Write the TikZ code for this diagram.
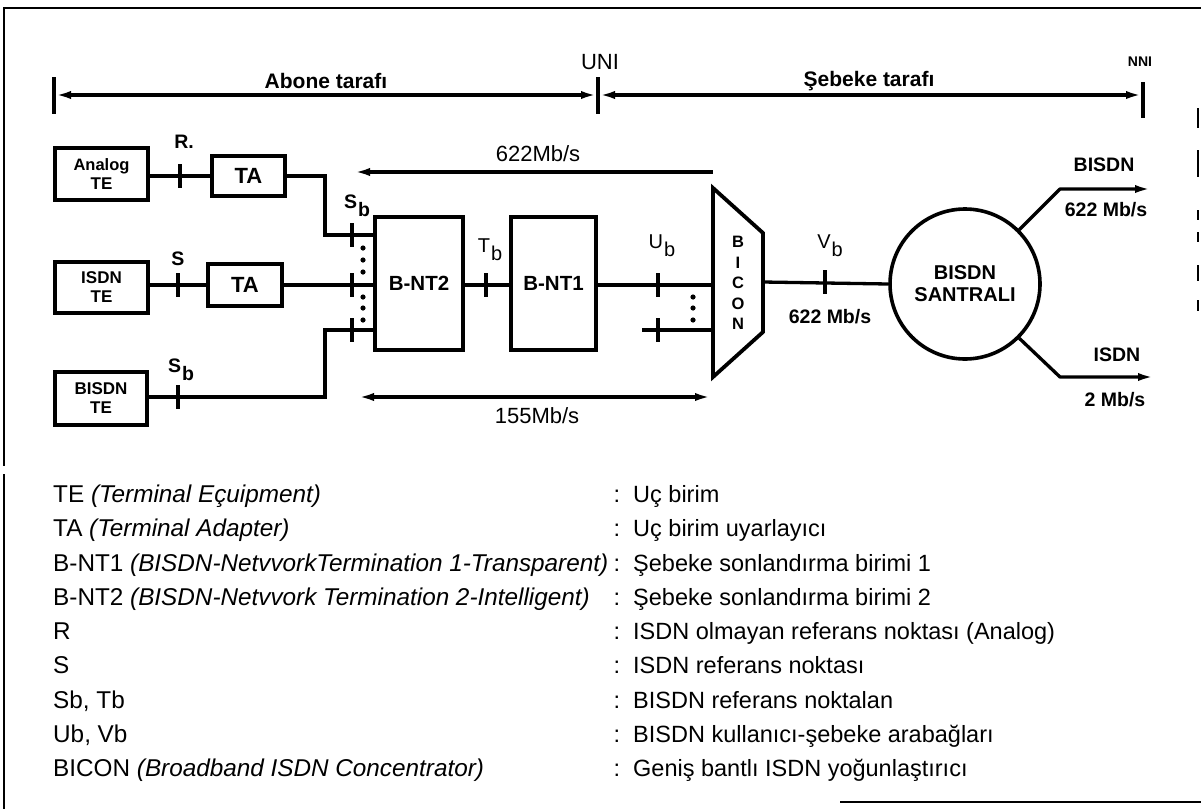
\documentclass[tikz,border=0pt]{standalone}
\usepackage{fontspec}
\setmainfont{Liberation Sans}
\usetikzlibrary{arrows.meta}
\newcommand\subb[1]{#1\kern1pt\raisebox{-0.4em}{b}}
\begin{document}
\begin{tikzpicture}[x=1pt,y=-1pt,
  box/.style={draw, line width=3.8pt, rectangle, inner sep=0pt, align=center, font=\bfseries\fontsize{18}{19}\selectfont},
  wire/.style={line width=3.3pt},
  tickmark/.style={line width=3.6pt},
  frame/.style={line width=2.4pt},
  blbl/.style={inner sep=0pt, font=\bfseries\fontsize{19.5}{19.5}\selectfont},
  rlbl/.style={inner sep=0pt, font=\fontsize{22}{22}\selectfont},
  leg/.style={anchor=base west, inner sep=0pt, font=\fontsize{24.3}{28}\selectfont},
  legr/.style={anchor=base west, inner sep=0pt, font=\fontsize{23.5}{28}\selectfont},
  col/.style={anchor=base, inner sep=0pt, font=\fontsize{23.5}{28}\selectfont},
  tipR/.style={-{Latex[length=17pt,width=8pt]}},
  tipL/.style={{Latex[length=17pt,width=8pt]}-},
  tipLR/.style={{Latex[length=17pt,width=8pt]}-{Latex[length=17pt,width=8pt]}},
  dot/.style={fill=black}
]
\useasboundingbox (0,0) rectangle (1201,809);
\fill[white] (0,0) rectangle (1201,809);

% frame
\draw[frame] (1201,8) -- (4,8) -- (4,466);
\draw[frame] (4,474) -- (4,809);
\draw[frame] (840,802) -- (1201,802);
\foreach \a/\b in {108/128,150/177,210/220,232/242,265/281,300/311}
  \draw[line width=2.5pt] (1198,\a) -- (1198,\b);

% header
\coordinate (lt) at (54,95);
\coordinate (uni) at (598,95);
\coordinate (nni) at (1143,95);
\draw[tickmark] (54,77) -- (54,114);
\draw[tickmark] (598,77) -- (598,114);
\draw[tickmark] (1143,82) -- (1143,118);
\draw[wire, tipLR] (lt) -- (uni);
\draw[wire, tipLR] (uni) -- (nni);
\node[rlbl] (unil) at (600,62) {UNI};
\node[blbl, font=\bfseries\fontsize{14}{14}\selectfont] (nnil) at (1140,62) {NNI};
\node[blbl, font=\bfseries\fontsize{21}{21}\selectfont] (abone) at (326,81) {Abone tarafı};
\node[blbl, font=\bfseries\fontsize{21}{21}\selectfont] (sebeke) at (869,81) {Şebeke tarafı};

% boxes
\node[box, minimum width=93pt, minimum height=52pt, font=\bfseries\fontsize{16.5}{19}\selectfont] (ate) at (101.5,174) {Analog\\\fontsize{17}{19}\selectfont TE};
\node[box, minimum width=73pt, minimum height=40pt, font=\bfseries\fontsize{22}{22}\selectfont] (ta1) at (248.5,176) {TA};
\node[box, minimum width=93pt, minimum height=51pt, font=\bfseries\fontsize{17}{19}\selectfont] (ite) at (101.5,287.5) {ISDN\\\fontsize{17}{19}\selectfont TE};
\node[box, minimum width=74pt, minimum height=42pt, font=\bfseries\fontsize{22}{22}\selectfont] (ta2) at (245,285) {TA};
\node[box, minimum width=92pt, minimum height=53pt, font=\bfseries\fontsize{17}{19}\selectfont] (bte) at (101,398.5) {BISDN\\\fontsize{17}{19}\selectfont TE};
\node[box, minimum width=88pt, minimum height=133pt, font=\bfseries\fontsize{20.5}{20}\selectfont] (nt2) at (419,283.5) {B-NT2};
\node[box, minimum width=85pt, minimum height=133pt, font=\bfseries\fontsize{20.5}{20}\selectfont] (nt1) at (553.5,283.5) {B-NT1};

% BICON
\draw[line width=3.8pt, line join=miter] (713,188) -- (763,233) -- (763,332) -- (713,377) -- cycle;
\node[blbl, align=center, font=\bfseries\fontsize{16.5}{20.5}\selectfont] (bicon) at (738,283) {B\\I\\C\\O\\N};
\coordinate (bl1) at (713,285);
\coordinate (bl2) at (713,330);
\coordinate (u2) at (642,330);
\coordinate (br) at (763,282);

% santral
\node[draw, circle, line width=3.6pt, minimum size=150pt, inner sep=0pt, align=center, font=\bfseries\fontsize{20}{22}\selectfont] (sw) at (965,284) {BISDN\\SANTRALI};

% junctions
\coordinate (j1) at (325,235);
\coordinate (j3) at (325,330);

% wires
\draw[wire] (ate.east |- ta1.west) -- (ta1.west);
\draw[wire] (ta1.east) -- (325,176) -- (j1) -- (nt2.west |- j1);
\draw[wire] (ite.east |- ta2.west) -- (ta2.west);
\draw[wire] (ta2.east) -- (nt2.west |- ta2.east);
\draw[wire] (bte.east |- 0,397) -- (325,397) -- (j3) -- (nt2.west |- j3);
\draw[wire] (nt2.east |- ta2.east) -- (nt1.west |- ta2.east);
\draw[wire] (nt1.east |- bl1) -- (bl1);
\draw[wire] (u2) -- (bl2);
\draw[wire] (br) -- (sw.west);
\coordinate (o1) at (1060,189);
\coordinate (o1e) at (1152,189);
\coordinate (o2) at (1060,377);
\coordinate (o2e) at (1155,377);
\draw[wire, tipR, line join=round] (sw.45) -- (o1) -- (o1e);
\draw[wire, tipR, line join=round] (sw.-45) -- (o2) -- (o2e);

% ticks
\foreach \x/\y in {180/176,178/285,178/397,352/235,352/285,352/330,486/285,658/285,658/330,825/282}
  \draw[tickmark] (\x,\y-12) -- (\x,\y+12);

% dots
\foreach \x/\y in {363/248,363/260,363/272,363/297,363/308,363/320,693/297,693/308,693/320}
  \fill[dot] (\x,\y) circle (2.6pt);

% reference labels
\node[blbl] (rl) at (184,142) {R.};
\node[blbl] (sl) at (178,259) {S};
\node[blbl] (sb1) at (357,206) {\subb{S}};
\node[blbl] (sb2) at (181,370) {\subb{S}};
\node[rlbl, font=\fontsize{20}{20}\selectfont] (tb) at (490,250) {\subb{T}};
\node[rlbl, font=\fontsize{20}{20}\selectfont] (ub) at (662,246) {\subb{U}};
\node[rlbl, font=\fontsize{20}{20}\selectfont] (vb) at (830,246) {\subb{V}};

% rate arrows
\draw[wire, tipL] (353,172) -- (713,172);
\node[rlbl] (r622) at (538,154) {622Mb/s};
\draw[wire, tipLR] (357,397) -- (712,397);
\node[rlbl] (r155) at (537,416) {155Mb/s};
\node[blbl] (v622) at (830,317) {622 Mb/s};
\node[blbl] (obisdn) at (1104,165) {BISDN};
\node[blbl] (o622) at (1106,210) {622 Mb/s};
\node[blbl] (oisdn) at (1117,355) {ISDN};
\node[blbl] (o2m) at (1115,400) {2 Mb/s};

% legend
\foreach \t [count=\i] in {TE \textit{(Terminal Eçuipment)},
  TA \textit{(Terminal Adapter)},
  B-NT1 \textit{(BISDN-NetvvorkTermination 1-Transparent)},
  B-NT2 \textit{(BISDN-Netvvork Termination 2-Intelligent)},
  R, S, {Sb, Tb}, {Ub, Vb},
  BICON \textit{(Broadband ISDN Concentrator)}}
  \node[leg] (l\i) at (53,{502.5+34.25*(\i-1)}) {\t};
\foreach \i in {1,...,9}
  \node[col] (c\i) at (617,{502.5+34.25*(\i-1)}) {:};
\foreach \t [count=\i] in {Uç birim, Uç birim uyarlayıcı,
  Şebeke sonlandırma birimi 1, Şebeke sonlandırma birimi 2,
  ISDN olmayan referans noktası (Analog), ISDN referans noktası,
  BISDN referans noktalan, BISDN kullanıcı-şebeke arabağları,
  Geniş bantlı ISDN yoğunlaştırıcı}
  \node[legr] (d\i) at (633,{502.5+34.25*(\i-1)}) {\t};
\end{tikzpicture}
\end{document}
